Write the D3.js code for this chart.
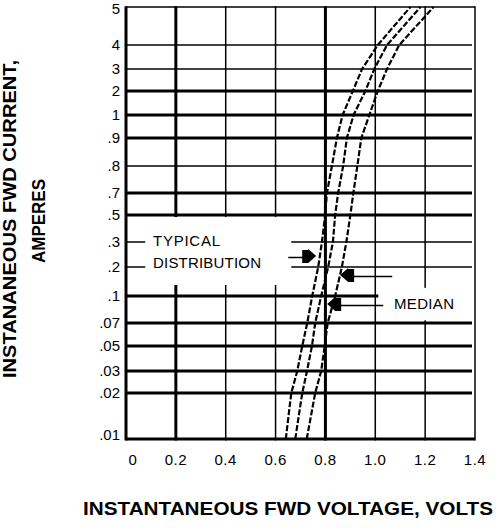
<!DOCTYPE html>
<html>
<head>
<meta charset="utf-8">
<script src="https://cdn.jsdelivr.net/npm/d3@7"></script>
<style>
  body { margin: 0; background: #fff; }
  svg { display: block; }
</style>
</head>
<body>
<script>
// y axis ticks, top to bottom (the printed scale is not a true log scale)
const currentTicks = [5, 4, 3, 2, 1, .9, .8, .7, .5, .3, .2, .1, .07, .05, .03, .02, .01]
const currentLabels = ['5', '4', '3', '2', '1', '.9', '.8', '.7', '.5', '.3', '.2', '.1', '.07', '.05', '.03', '.02', '.01']
const voltTicks = [0, 0.2, 0.4, 0.6, 0.8, 1.0, 1.2, 1.4]
const voltLabels = ['0', '0.2', '0.4', '0.6', '0.8', '1.0', '1.2', '1.4']

// the three curves, read at each grid current
const curveCurrents = [.01, .02, .03, .05, .07, .1, .2, .3, .5, .7, .8, .9, 1, 2, 3, 4, 5]
const lowVolts    = [0.641, 0.663, 0.687, 0.707, 0.727, 0.747, 0.771, 0.786, 0.799, 0.806, 0.826, 0.846, 0.869, 0.910, 0.947, 1.010, 1.141]
const medianVolts = [0.679, 0.707, 0.726, 0.746, 0.759, 0.783, 0.811, 0.830, 0.839, 0.851, 0.871, 0.886, 0.913, 0.960, 0.996, 1.047, 1.181]
const highVolts   = [0.725, 0.759, 0.783, 0.797, 0.809, 0.839, 0.866, 0.884, 0.900, 0.912, 0.928, 0.944, 0.976, 1.010, 1.047, 1.096, 1.234]

// which grid lines are drawn heavy
const heavyCurrents = [2, 1, .9, .7, .5, .1, .07, .05, .03, .02, .01]
const heavyVolts = [0, 0.2, 0.8]

// pixel rows of the printed current scale
const yRows = [7, 45, 69, 91, 115, 138, 166, 193, 215, 242, 267, 296, 323, 346, 371, 393, 439]

const width = 502
const height = 531
const font = 'Liberation Sans, Arial, sans-serif'

const svg = d3.select('body').append('svg')
  .attr('width', width)
  .attr('height', height)
  .attr('viewBox', `0 0 ${width} ${height}`)

const x = d3.scaleLinear().domain([0, 1.4]).range([126, 475])
const y = d3.scaleLinear().domain(currentTicks).range(yRows)

const thin = 1.5
const heavy = 3

// grid
const grid = svg.append('g').attr('stroke', '#000')

grid.selectAll('line.h')
  .data(currentTicks)
  .join('line')
    .attr('class', 'h')
    .attr('x1', x(0))
    .attr('x2', (d, i) => (i == 0 || i == currentTicks.length - 1) ? x(1.4) : x(1.4) - 3)
    .attr('y1', d => y(d))
    .attr('y2', d => y(d))
    .attr('stroke-width', d => heavyCurrents.includes(d) ? heavy : thin)

grid.selectAll('line.v')
  .data(voltTicks)
  .join('line')
    .attr('class', 'v')
    .attr('x1', d => x(d))
    .attr('x2', d => x(d))
    .attr('y1', y(5) - 0.75)
    .attr('y2', y(.01) + 1.5)
    .attr('stroke-width', d => heavyVolts.includes(d) ? heavy : thin)

// white label boxes that break the grid
const boxes = [
  {v0: 0.077, v1: 0.663, i0: 0.485, i1: 0.138},
  {v0: 1.012, v1: 1.39, i0: 0.128, i1: 0.073},
]
svg.append('g').selectAll('rect')
  .data(boxes)
  .join('rect')
    .attr('x', d => x(d.v0))
    .attr('y', d => y(d.i0))
    .attr('width', d => x(d.v1) - x(d.v0))
    .attr('height', d => y(d.i1) - y(d.i0))
    .attr('fill', '#fff')

// tick labels
svg.append('g').selectAll('text')
  .data(currentTicks)
  .join('text')
    .attr('x', 120)
    .attr('y', d => y(d) + (d == .01 ? -4 : d == 5 ? 2 : 0))
    .attr('dy', '0.36em')
    .attr('text-anchor', 'end')
    .attr('font-family', font)
    .attr('font-size', 15)
    .text((d, i) => currentLabels[i])

svg.append('g').selectAll('text')
  .data(voltTicks)
  .join('text')
    .attr('x', d => x(d) + (d == 0 ? 7 : 0))
    .attr('y', 465)
    .attr('text-anchor', 'middle')
    .attr('font-family', font)
    .attr('font-size', 15)
    .attr('letter-spacing', 0.5)
    .text((d, i) => voltLabels[i])

// curves
const line = d3.line()
  .x(d => x(d[0]))
  .y(d => y(d[1]))

svg.append('g').selectAll('path')
  .data([lowVolts, medianVolts, highVolts])
  .join('path')
    .attr('d', vs => line(vs.map((v, i) => [v, curveCurrents[i]])))
    .attr('fill', 'none')
    .attr('stroke', '#000')
    .attr('stroke-width', 2.2)
    .attr('stroke-dasharray', '6 2')

// annotation arrows: tip point, direction, end of leader
const arrows = [
  {v: 0.763, i: 0.244, dir: 1, end: 0.651},
  {v: 0.859, i: 0.172, dir: -1, end: 1.068},
  {v: 0.807, i: 0.091, dir: -1, end: 1.032},
]
const arrow = svg.append('g').selectAll('g')
  .data(arrows)
  .join('g')
    .attr('transform', d => `translate(${x(d.v)}, ${y(d.i)})`)

arrow.append('path')
  .attr('d', d => {
    const s = -d.dir
    return `M0,0 L${8 * s},-7 L${8 * s},-6 L${14 * s},-6 L${14 * s},7 L${8 * s},7 Z`
  })
  .attr('fill', '#000')

arrow.append('line')
  .attr('x1', d => -d.dir * 12)
  .attr('x2', d => x(d.end) - x(d.v))
  .attr('y1', 1.5)
  .attr('y2', 1.5)
  .attr('stroke', '#000')
  .attr('stroke-width', 1.5)

// annotation text
const notes = svg.append('g')
  .attr('font-family', font)
  .attr('font-size', 15)
notes.append('text').attr('x', 153).attr('y', 246).attr('textLength', 67).text('TYPICAL')
notes.append('text').attr('x', 153).attr('y', 268).attr('textLength', 108).text('DISTRIBUTION')
notes.append('text').attr('x', 394).attr('y', 309).attr('textLength', 60).text('MEDIAN')

// axis titles
svg.append('text')
  .attr('x', 288)
  .attr('y', 515)
  .attr('text-anchor', 'middle')
  .attr('font-family', font)
  .attr('font-weight', 'bold')
  .attr('font-size', 18)
  .attr('textLength', 410)
  .attr('lengthAdjust', 'spacingAndGlyphs')
  .text('INSTANTANEOUS FWD VOLTAGE, VOLTS')

const ytitle = svg.append('g')
  .attr('font-family', font)
  .attr('font-weight', 'bold')
  .attr('font-size', 18)
  .attr('text-anchor', 'middle')

ytitle.append('text')
  .attr('transform', 'translate(16, 219) rotate(-90)')
  .attr('textLength', 318)
  .attr('lengthAdjust', 'spacingAndGlyphs')
  .text('INSTANANEOUS FWD CURRENT,')

ytitle.append('text')
  .attr('transform', 'translate(45, 221) rotate(-90)')
  .attr('textLength', 84)
  .attr('lengthAdjust', 'spacingAndGlyphs')
  .text('AMPERES')
</script>
</body>
</html>
